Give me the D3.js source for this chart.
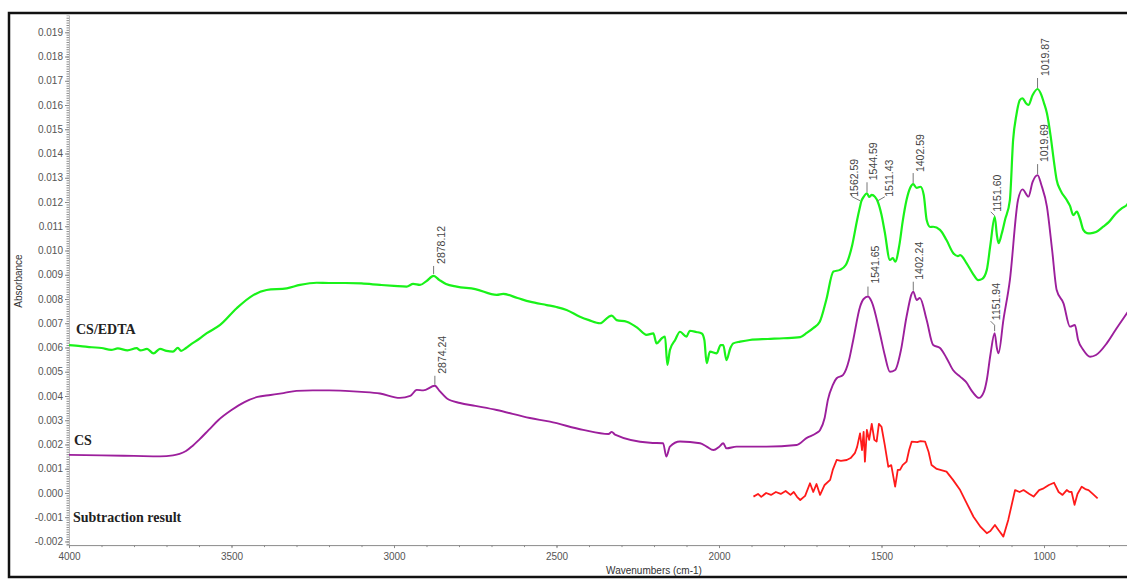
<!DOCTYPE html>
<html>
<head>
<meta charset="utf-8">
<script src="https://cdn.jsdelivr.net/npm/d3@7"></script>
<style>
  html, body { margin: 0; padding: 0; background: #fff; }
  svg { display: block; }
  .tick text { font-family: Arial, "Liberation Sans", sans-serif; }
</style>
</head>
<body>
<svg id="chart" width="1127" height="579"></svg>
<script>
// FTIR absorbance spectra: [wavenumber (cm-1), absorbance]
const csEdta = [
  [4000,0.00610],[3965,0.00606],[3930,0.00601],[3900,0.00598],[3870,0.00590],[3850,0.00596],
  [3820,0.00588],[3792,0.00597],[3780,0.00588],[3760,0.00594],[3740,0.00576],[3720,0.00594],
  [3700,0.00586],[3680,0.00583],[3665,0.00598],[3655,0.00586],[3640,0.00598],[3628,0.00610],
  [3600,0.00635],[3576,0.00659],[3535,0.00693],[3484,0.00762],[3433,0.00816],[3392,0.00837],
  [3330,0.00844],[3289,0.00858],[3238,0.00867],[3200,0.00866],[3150,0.00866],[3100,0.00864],
  [3043,0.00858],[3000,0.00854],[2961,0.00851],[2941,0.00862],[2920,0.00858],[2900,0.00874],
  [2878.12,0.00895],[2860,0.00878],[2840,0.00862],[2807,0.00851],[2750,0.00841],[2684,0.00817],
  [2664,0.00821],[2620,0.00804],[2582,0.00789],[2530,0.00775],[2500,0.00767],[2469,0.00755],
  [2428,0.00727],[2400,0.00713],[2366,0.00700],[2340,0.00726],[2330,0.00731],[2315,0.00713],
  [2284,0.00706],[2250,0.00680],[2223,0.00652],[2202,0.00658],[2192,0.00617],[2175,0.00639],
  [2166,0.00645],[2159,0.00528],[2151,0.00590],[2135,0.00631],[2120,0.00665],[2100,0.00645],
  [2090,0.00669],[2070,0.00664],[2053,0.00658],[2045,0.00631],[2038,0.00535],[2028,0.00583],
  [2007,0.00576],[1995,0.00610],[1987,0.00610],[1977,0.00548],[1965,0.00598],[1956,0.00617],
  [1935,0.00624],[1905,0.00631],[1850,0.00635],[1802,0.00638],[1750,0.00643],[1730,0.00660],
  [1710,0.00680],[1690,0.00706],[1670,0.00796],[1648,0.00913],[1628,0.00920],[1610,0.00940],
  [1590,0.01023],[1575,0.01126],[1566,0.01181],[1562.59,0.01201],[1555,0.01221],[1544.59,0.01236],
  [1538,0.01221],[1530,0.01229],[1520,0.01221],[1511.43,0.01201],[1500,0.01147],[1490,0.01076],
  [1474,0.00961],[1465,0.00969],[1458,0.00954],[1445,0.01023],[1435,0.01118],[1423,0.01208],
  [1412,0.01258],[1402.59,0.01274],[1392,0.01258],[1380,0.01263],[1370,0.01229],[1361,0.01126],
  [1350,0.01097],[1341,0.01098],[1320,0.01085],[1300,0.01043],[1279,0.00989],[1265,0.00977],
  [1258,0.00981],[1238,0.00947],[1220,0.00907],[1202,0.00878],[1190,0.00883],[1176,0.00920],
  [1165,0.01023],[1151.60,0.01139],[1145,0.01064],[1140,0.01030],[1130,0.01070],[1120,0.01126],
  [1105,0.01208],[1095,0.01456],[1085,0.01559],[1074,0.01621],[1066,0.01628],[1056,0.01608],
  [1048,0.01600],[1035,0.01641],[1019.87,0.01666],[1008,0.01641],[1000,0.01608],[991,0.01566],
  [980,0.01476],[970,0.01373],[961,0.01291],[950,0.01250],[930,0.01208],[920,0.01184],
  [910,0.01146],[899,0.01160],[890,0.01134],[879,0.01085],[868,0.01072],[858,0.01071],
  [840,0.01076],[818,0.01098],[800,0.01118],[780,0.01151],[760,0.01175],[745,0.01188],[730,0.01217]
];

const cs = [
  [4000,0.00157],[3900,0.00155],[3800,0.00153],[3720,0.00151],[3680,0.00155],[3660,0.00161],
  [3640,0.00173],[3620,0.00194],[3600,0.00219],[3570,0.00260],[3540,0.00301],[3500,0.00342],
  [3460,0.00375],[3420,0.00396],[3380,0.00404],[3340,0.00412],[3300,0.00421],[3250,0.00423],
  [3200,0.00423],[3150,0.00421],[3100,0.00417],[3043,0.00410],[2982,0.00392],[2950,0.00400],
  [2930,0.00425],[2910,0.00423],[2874.24,0.00442],[2860,0.00421],[2838,0.00391],[2797,0.00371],
  [2750,0.00359],[2684,0.00342],[2582,0.00309],[2520,0.00294],[2418,0.00260],[2340,0.00243],
  [2330,0.00252],[2320,0.00241],[2212,0.00207],[2172,0.00205],[2162,0.00150],[2151,0.00191],
  [2120,0.00212],[2058,0.00205],[2038,0.00191],[2017,0.00177],[2000,0.00190],[1987,0.00205],
  [1977,0.00184],[1946,0.00191],[1854,0.00191],[1761,0.00198],[1731,0.00226],[1700,0.00247],
  [1689,0.00260],[1675,0.00309],[1665,0.00384],[1650,0.00445],[1638,0.00473],[1618,0.00487],
  [1600,0.00548],[1587,0.00631],[1566,0.00768],[1555,0.00800],[1541.65,0.00810],[1530,0.00788],
  [1505,0.00659],[1490,0.00569],[1474,0.00500],[1458,0.00507],[1440,0.00590],[1423,0.00727],
  [1402.24,0.00830],[1392,0.00796],[1382,0.00804],[1361,0.00713],[1341,0.00610],[1320,0.00598],
  [1300,0.00557],[1280,0.00507],[1258,0.00480],[1240,0.00458],[1220,0.00417],[1200,0.00392],
  [1185,0.00417],[1176,0.00466],[1165,0.00569],[1151.94,0.00659],[1145,0.00598],[1140,0.00576],
  [1125,0.00713],[1105,0.00878],[1080,0.01208],[1066,0.01252],[1048,0.01222],[1035,0.01283],
  [1019.69,0.01311],[1008,0.01270],[991,0.01181],[975,0.01002],[961,0.00837],[940,0.00782],
  [920,0.00686],[905,0.00693],[895,0.00631],[879,0.00590],[858,0.00562],[840,0.00569],
  [807,0.00617],[780,0.00672],[745,0.00741],[730,0.00771]
];

const subtraction = [
  [1894,-0.00015],[1880,-0.00004],[1870,-0.00016],[1855,0.00000],[1840,-0.00008],[1825,0.00004],
  [1810,-0.00004],[1795,0.00008],[1780,-0.00008],[1770,0.00004],[1760,-0.00016],[1750,-0.00029],
  [1735,-0.00012],[1720,0.00040],[1710,0.00004],[1700,0.00037],[1689,-0.00008],[1675,0.00033],
  [1658,0.00054],[1650,0.00095],[1638,0.00136],[1625,0.00132],[1607,0.00136],[1595,0.00144],
  [1582,0.00164],[1575,0.00190],[1566,0.00246],[1560,0.00177],[1555,0.00252],[1551,0.00129],
  [1545,0.00260],[1538,0.00219],[1530,0.00285],[1522,0.00219],[1515,0.00212],[1508,0.00285],
  [1500,0.00273],[1490,0.00198],[1479,0.00108],[1470,0.00115],[1458,0.00026],[1450,0.00095],
  [1443,0.00095],[1435,0.00115],[1423,0.00129],[1415,0.00177],[1407,0.00212],[1390,0.00210],
  [1380,0.00214],[1366,0.00212],[1355,0.00169],[1346,0.00115],[1330,0.00099],[1300,0.00088],
  [1280,0.00054],[1258,0.00012],[1240,-0.00037],[1217,-0.00098],[1195,-0.00140],[1176,-0.00166],
  [1165,-0.00157],[1151,-0.00132],[1140,-0.00153],[1125,-0.00180],[1110,-0.00111],[1089,0.00012],
  [1075,0.00004],[1063,0.00012],[1045,-0.00004],[1032,-0.00015],[1015,0.00012],[1001,0.00019],
  [985,0.00033],[969,0.00042],[955,0.00004],[943,-0.00008],[930,0.00012],[923,0.00005],
  [915,0.00004],[906,-0.00049],[897,-0.00004],[884,0.00026],[873,0.00016],[863,0.00012],
  [850,-0.00004],[835,-0.00022]
];

// Peak labels (wavenumbers) per spectrum
const csEdtaPeaks = [2878.12, 1562.59, 1544.59, 1511.43, 1402.59, 1151.60, 1019.87];
const csPeaks = [2874.24, 1541.65, 1402.24, 1151.94, 1019.69];

const seriesNames = ["CS/EDTA", "CS", "Subtraction result"];
const xTickValues = [4000, 3500, 3000, 2500, 2000, 1500, 1000];
const yTickValues = d3.range(-2, 20).map(i => i / 1000);

// ---- layout ----
const svg = d3.select("#chart");
const W = 1127, H = 579;

const x = d3.scaleLinear().domain([4000, 650]).range([69, 1157.75]);
const y = d3.scaleLinear().domain([-0.00215, 0.0197]).range([545.1, 15.3]);

const locale = d3.formatLocale({decimal: ".", thousands: ",", grouping: [3], currency: ["", ""], minus: "-"});
const fmtY = locale.format(".3f");

const axisFont = 'Arial, "Liberation Sans", sans-serif';
const axisColor = "#8a8a8a";
const textColor = "#555";

// outer frame
svg.append("rect")
  .attr("x", 9).attr("y", 13).attr("width", W + 10).attr("height", H - 15)
  .attr("fill", "none").attr("stroke", "#111").attr("stroke-width", 2.5);

// y axis: minor ticks, major ticks
const yAxisG = svg.append("g").attr("transform", `translate(${x(4000)},0)`);
yAxisG.append("g")
  .call(d3.axisLeft(y).tickValues(d3.range(-21, 197).map(i => i / 10000)).tickSize(2.5).tickFormat(""))
  .call(g => g.selectAll("line").attr("stroke", axisColor))
  .call(g => g.select(".domain").attr("stroke", "#bbb"));
yAxisG.append("g")
  .call(d3.axisLeft(y).tickValues(yTickValues).tickSize(4).tickPadding(2).tickFormat(fmtY))
  .call(g => g.select(".domain").remove())
  .call(g => g.selectAll("line").attr("stroke", axisColor))
  .call(g => g.selectAll("text").attr("fill", textColor).attr("font-size", 10).attr("font-family", axisFont));

// x axis
const xAxisG = svg.append("g").attr("transform", `translate(0,${y(-0.00215)})`);
xAxisG.append("g")
  .call(d3.axisBottom(x).tickValues(d3.range(3900, 650, -100)).tickSize(2).tickFormat(""))
  .call(g => g.select(".domain").attr("stroke", axisColor))
  .call(g => g.selectAll("line").attr("stroke", axisColor));
xAxisG.append("g")
  .call(d3.axisBottom(x).tickValues(xTickValues).tickSize(3).tickPadding(5).tickFormat(d3.format("d")))
  .call(g => g.select(".domain").remove())
  .call(g => g.selectAll("line").attr("stroke", axisColor))
  .call(g => g.selectAll("text").attr("fill", textColor).attr("font-size", 10).attr("font-family", axisFont));

// axis titles
svg.append("text")
  .attr("x", 654).attr("y", 574).attr("text-anchor", "middle")
  .attr("font-family", axisFont).attr("font-size", 10).attr("fill", "#333")
  .text("Wavenumbers (cm-1)");
svg.append("text")
  .attr("transform", "translate(22,281) rotate(-90)").attr("text-anchor", "middle")
  .attr("font-family", axisFont).attr("font-size", 10).attr("fill", "#333")
  .text("Absorbance");

// plot clip
svg.append("clipPath").attr("id", "plotClip")
  .append("rect").attr("x", 69).attr("y", 14).attr("width", W - 69).attr("height", 531);

const smoothLine = d3.line().x(d => x(d[0])).y(d => y(d[1])).curve(d3.curveMonotoneX);
const rawLine = d3.line().x(d => x(d[0])).y(d => y(d[1])).curve(d3.curveLinear);
const plot = svg.append("g").attr("clip-path", "url(#plotClip)");

const spectra = [
  {data: csEdta, color: "#19f219", width: 2.2, gen: smoothLine},
  {data: cs, color: "#9c1f9c", width: 1.9, gen: smoothLine},
  {data: subtraction, color: "#ff1a1a", width: 1.8, gen: rawLine}
];
plot.selectAll("path.spec").data(spectra).join("path")
  .attr("class", "spec")
  .attr("d", d => d.gen(d.data))
  .attr("fill", "none")
  .attr("stroke", d => d.color)
  .attr("stroke-width", d => d.width)
  .attr("stroke-linejoin", "round");

// series names
const nameAnchors = [[76, 334], [74, 445], [73, 522]];
svg.selectAll("text.sname").data(seriesNames).join("text")
  .attr("class", "sname")
  .attr("x", (d, i) => nameAnchors[i][0])
  .attr("y", (d, i) => nameAnchors[i][1])
  .attr("font-family", '"Times New Roman", "Liberation Serif", serif')
  .attr("font-weight", "bold").attr("font-size", 14).attr("fill", "#222")
  .text(d => d);

// peak annotations: leader offsets and label placement relative to the peak
const labelLayout = {
  "2878.12": {leader: [[0,-2],[0,-10]], tx: 11, ty: -12},
  "1562.59": {leader: [[-1,-1],[-9,-5],[-10,-8]], tx: -2.7, ty: -5},
  "1544.59": {leader: [[0,-1],[0,-11]], tx: 9.5, ty: -13},
  "1511.43": {leader: [[0,-1],[7,-5]], tx: 15, ty: -5},
  "1402.59": {leader: [[0,-1],[0,-11]], tx: 11, ty: -12},
  "1151.60": {leader: [[0,-1],[-4,-5]], tx: 6.3, ty: -5},
  "1019.87": {leader: [[0,-1],[0,-11]], tx: 11, ty: -13},
  "2874.24": {leader: [[0,-1],[0,-10]], tx: 11, ty: -12},
  "1541.65": {leader: [[0,-1],[0,-10]], tx: 11.5, ty: -13},
  "1402.24": {leader: [[0,-1],[0,-10]], tx: 10, ty: -12},
  "1151.94": {leader: [[0,-2],[0,-8],[-4,-12]], tx: 5.4, ty: -13},
  "1019.69": {leader: [[0,-1],[0,-11]], tx: 10, ty: -13}
};

function valueAt(data, w) {
  for (let i = 0; i < data.length - 1; i++) {
    const a = data[i], b = data[i + 1];
    if (w <= a[0] && w >= b[0]) {
      const t = (a[0] - w) / (a[0] - b[0]);
      return a[1] + t * (b[1] - a[1]);
    }
  }
  return data[data.length - 1][1];
}

const fmtPeak = d3.format(".2f");
const annotations = [
  ...csEdtaPeaks.map(w => ({w, data: csEdta})),
  ...csPeaks.map(w => ({w, data: cs}))
];
const annG = svg.append("g");
annotations.forEach(a => {
  const label = fmtPeak(a.w);
  const L = labelLayout[label];
  const px = x(a.w), py = y(valueAt(a.data, a.w));
  annG.append("path")
    .attr("d", d3.line()(L.leader.map(p => [px + p[0], py + p[1]])))
    .attr("fill", "none").attr("stroke", "#777").attr("stroke-width", 1);
  annG.append("text")
    .attr("transform", `translate(${px + L.tx},${py + L.ty}) rotate(-90)`)
    .attr("font-family", axisFont).attr("font-size", 10.5).attr("fill", "#444")
    .text(label);
});
</script>
</body>
</html>
